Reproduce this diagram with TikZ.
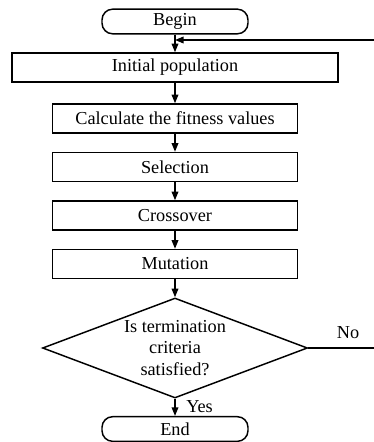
\documentclass[tikz,border=0pt]{standalone}
\usepackage{fontspec}
\setmainfont{Liberation Serif}
\usetikzlibrary{shapes.geometric,arrows.meta,positioning,calc}

\begin{document}
\begin{tikzpicture}[x=0.75pt,y=-0.75pt,
    caja/.style={draw,line width=1.1pt,minimum height=21.75pt,inner sep=0pt,
      font=\fontsize{13.7}{16}\selectfont},
    terminal/.style={caja,rounded corners=8pt,minimum width=109.5pt,minimum height=18.5pt},
    decision/.style={draw,line width=1.1pt,diamond,aspect=2.65,inner sep=0pt,
      minimum width=198.75pt,minimum height=75pt,align=center,
      font=\fontsize{13.7}{16.3}\selectfont},
    flecha/.style={line width=1.1pt,-{Triangle[length=6.5pt,width=5pt]}}]
    \useasboundingbox (0,0) rectangle (374,442);

    % Bloques del algoritmo.
    \node[terminal] (begin) at (175,21.5) {Begin};
    \node[caja,minimum width=244.5pt] (init) at (175,67.5) {Initial population};
    \node[caja,minimum width=183.75pt] (fit) at (175,118.5) {Calculate the fitness values};
    \node[caja,minimum width=183.75pt] (sel) at (175,167) {Selection};
    \node[caja,minimum width=183.75pt] (cross) at (175,215.5) {Crossover};
    \node[caja,minimum width=183.75pt] (mut) at (175,264) {Mutation};
    \node[decision] (term) at (175,348) {Is termination\\criteria\\satisfied?};
    \node[terminal] (end) at (175,429) {End};

    % Flechas principales.
    \draw[flecha] (begin) -- (init);
    \draw[flecha] (init) -- (fit);
    \draw[flecha] (fit) -- (sel);
    \draw[flecha] (sel) -- (cross);
    \draw[flecha] (cross) -- (mut);
    \draw[flecha] (mut) -- (term);
    \draw[flecha] (term) -- (end);
    \node[anchor=west,font=\fontsize{13.7}{16}\selectfont,inner sep=0pt] (yes) at (186,407) {Yes};

    % Retorno (cortado en el borde derecho).
    \coordinate (noR) at (374,348);
    \coordinate (backR) at (374,40);
    \coordinate (backL) at (175,40);
    \draw[line width=1.1pt] (term.east) -- (noR);
    \node[font=\fontsize{13.7}{16}\selectfont,inner sep=0pt] (no) at (348,333) {No};
    \draw[flecha] (backR) -- (backL);
  \end{tikzpicture}
\end{document}
